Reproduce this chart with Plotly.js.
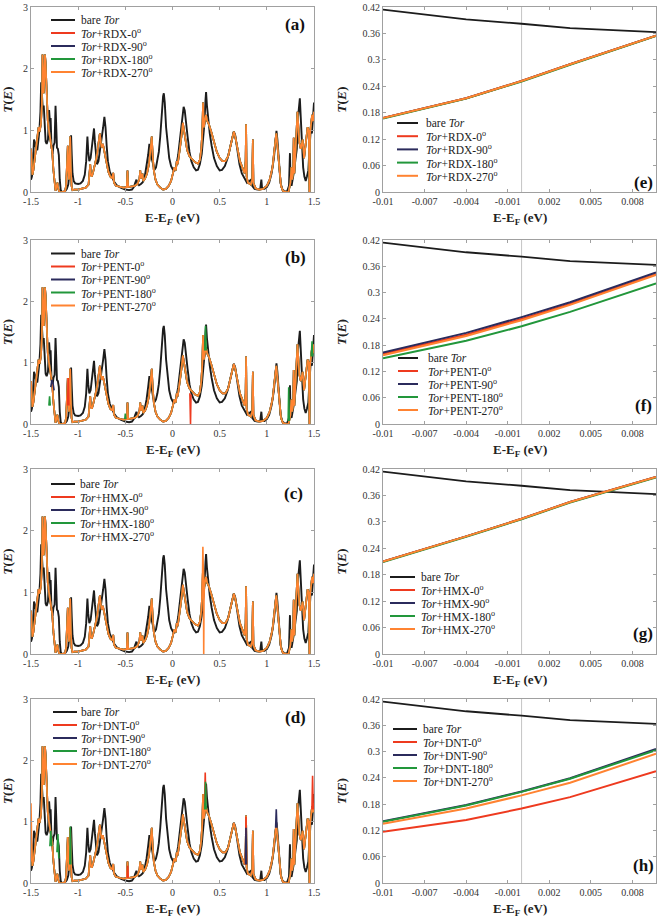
<!DOCTYPE html>
<html><head><meta charset="utf-8">
<script src="https://cdn.plot.ly/plotly-3.0.1.min.js"></script>
<style>html,body{margin:0;padding:0;background:#fff}#chart{width:661px;height:918px}</style>
</head><body><div id="chart"></div>
<script>
// ---------- categories ----------
const molecules = ['RDX', 'PENT', 'HMX', 'DNT'];
const angles = ['0', '90', '180', '270'];
const panelLetters = ['(a)', '(b)', '(c)', '(d)', '(e)', '(f)', '(g)', '(h)'];

// ---------- wide-range transmission, bare Tor (same in a-d) ----------
const energyBare = [-1.500,-1.490,-1.480,-1.468,-1.458,-1.445,-1.433,-1.420,-1.411,-1.400,-1.392,-1.385,-1.375,-1.365,-1.355,-1.345,-1.334,-1.320,-1.308,-1.300,-1.292,-1.283,-1.272,-1.262,-1.250,-1.240,-1.233,-1.225,-1.215,-1.205,-1.195,-1.185,-1.170,-1.155,-1.135,-1.120,-1.105,-1.092,-1.082,-1.075,-1.068,-1.060,-1.048,-1.032,-1.000,-0.975,-0.950,-0.930,-0.915,-0.902,-0.893,-0.882,-0.868,-0.852,-0.840,-0.832,-0.822,-0.810,-0.800,-0.785,-0.770,-0.752,-0.735,-0.722,-0.710,-0.698,-0.685,-0.665,-0.643,-0.620,-0.590,-0.550,-0.500,-0.460,-0.430,-0.410,-0.395,-0.382,-0.370,-0.355,-0.335,-0.315,-0.295,-0.275,-0.258,-0.245,-0.235,-0.222,-0.205,-0.190,-0.175,-0.160,-0.145,-0.130,-0.115,-0.100,-0.092,-0.082,-0.068,-0.052,-0.035,-0.015,0.005,0.022,0.040,0.060,0.080,0.100,0.118,0.130,0.145,0.160,0.180,0.200,0.225,0.250,0.270,0.290,0.310,0.325,0.338,0.350,0.356,0.365,0.378,0.395,0.415,0.440,0.470,0.500,0.525,0.555,0.585,0.610,0.632,0.650,0.665,0.685,0.710,0.735,0.760,0.790,0.815,0.832,0.845,0.870,0.900,0.930,0.942,0.950,0.975,1.000,1.025,1.050,1.075,1.092,1.102,1.112,1.128,1.145,1.165,1.190,1.215,1.235,1.245,1.252,1.262,1.275,1.290,1.305,1.318,1.330,1.340,1.350,1.360,1.372,1.385,1.398,1.412,1.425,1.440,1.452,1.465,1.478,1.490,1.500];
const tBare = [0.20,0.25,0.45,0.85,0.80,0.70,0.68,0.85,1.00,1.30,1.78,1.60,1.35,1.40,0.95,0.82,0.78,0.85,1.33,1.15,1.20,0.75,0.62,0.75,0.80,1.40,1.10,0.72,0.70,0.60,0.20,0.03,0.00,0.00,0.02,0.05,0.12,0.30,0.65,0.92,0.60,0.30,0.18,0.14,0.13,0.14,0.18,0.28,0.50,0.90,0.65,0.50,0.55,0.75,0.95,1.03,0.80,0.55,0.45,0.50,0.65,0.85,1.05,1.22,1.05,0.75,0.50,0.33,0.24,0.17,0.11,0.07,0.04,0.03,0.04,0.08,0.15,0.20,0.14,0.11,0.13,0.16,0.24,0.40,0.60,0.78,0.72,0.55,0.43,0.36,0.40,0.50,0.65,0.90,1.25,1.55,1.60,1.45,1.05,0.75,0.55,0.42,0.36,0.35,0.42,0.60,0.90,1.20,1.38,1.32,1.15,0.90,0.65,0.50,0.40,0.35,0.36,0.45,0.62,0.85,1.10,1.50,1.62,1.40,1.15,0.95,0.75,0.55,0.42,0.35,0.36,0.42,0.55,0.72,0.90,0.98,0.92,0.70,0.45,0.30,0.22,0.15,0.18,0.20,0.10,0.05,0.04,0.05,0.20,0.05,0.05,0.08,0.15,0.30,0.55,0.85,0.99,0.85,0.45,0.15,0.04,0.01,0.01,0.10,0.63,0.15,0.10,0.20,0.35,0.55,0.70,1.20,1.35,1.52,1.20,0.75,0.40,0.25,0.18,0.25,0.35,0.70,1.00,0.95,1.20,1.45];

// ---------- wide-range transmission with adsorbed molecule (curves of all angles coincide) ----------
const energyAds = [-1.500,-1.492,-1.485,-1.475,-1.460,-1.445,-1.430,-1.420,-1.408,-1.395,-1.385,-1.378,-1.372,-1.365,-1.358,-1.352,-1.345,-1.335,-1.322,-1.305,-1.290,-1.275,-1.262,-1.250,-1.240,-1.228,-1.220,-1.210,-1.198,-1.170,-1.140,-1.128,-1.118,-1.110,-1.103,-1.097,-1.090,-1.085,-1.078,-1.070,-1.060,-1.040,-1.000,-0.960,-0.920,-0.890,-0.878,-0.872,-0.865,-0.855,-0.840,-0.820,-0.800,-0.785,-0.770,-0.760,-0.750,-0.738,-0.728,-0.715,-0.700,-0.680,-0.660,-0.640,-0.628,-0.620,-0.600,-0.560,-0.520,-0.485,-0.477,-0.470,-0.440,-0.400,-0.370,-0.350,-0.342,-0.335,-0.325,-0.318,-0.310,-0.290,-0.270,-0.250,-0.232,-0.220,-0.210,-0.198,-0.180,-0.160,-0.130,-0.100,-0.070,-0.040,-0.015,0.005,0.020,0.035,0.045,0.055,0.065,0.080,0.095,0.110,0.122,0.138,0.155,0.180,0.210,0.240,0.270,0.290,0.305,0.315,0.324,0.332,0.342,0.355,0.368,0.385,0.410,0.440,0.470,0.500,0.530,0.560,0.590,0.615,0.635,0.650,0.665,0.690,0.715,0.740,0.765,0.775,0.780,0.786,0.800,0.830,0.845,0.852,0.858,0.880,0.920,0.960,1.000,1.030,1.060,1.085,1.100,1.115,1.135,1.150,1.170,1.200,1.230,1.250,1.260,1.268,1.278,1.285,1.292,1.305,1.315,1.325,1.335,1.345,1.360,1.380,1.395,1.410,1.420,1.432,1.445,1.452,1.458,1.470,1.480,1.490,1.500];
const tAdsorbed = [0.70,0.40,0.28,0.35,0.55,0.75,0.95,1.05,0.98,1.10,1.40,2.23,1.95,1.60,1.85,2.23,2.10,1.55,1.15,0.95,0.80,0.65,0.35,0.08,0.02,0.10,0.15,0.05,0.00,0.00,0.01,0.10,0.45,0.75,0.35,0.20,0.55,0.90,0.40,0.10,0.03,0.04,0.04,0.05,0.07,0.12,0.30,0.45,0.28,0.25,0.33,0.45,0.60,0.78,0.95,0.80,0.72,0.78,0.70,0.58,0.45,0.33,0.25,0.22,0.31,0.15,0.10,0.08,0.07,0.08,0.35,0.08,0.09,0.10,0.13,0.22,0.35,0.22,0.25,0.30,0.18,0.22,0.30,0.45,0.70,0.90,0.60,0.35,0.20,0.12,0.07,0.04,0.05,0.10,0.18,0.30,0.40,0.35,0.50,0.45,0.60,0.72,0.90,1.12,1.00,0.80,0.68,0.58,0.52,0.48,0.46,0.52,0.70,0.95,1.45,1.05,1.15,1.25,1.15,1.10,0.98,0.80,0.65,0.55,0.50,0.50,0.58,0.75,0.92,0.98,0.90,0.68,0.50,0.40,0.30,0.50,1.10,0.25,0.15,0.12,0.20,0.85,0.15,0.06,0.04,0.05,0.10,0.20,0.40,0.75,0.95,0.70,0.30,0.10,0.02,0.00,0.00,0.15,0.40,0.20,0.30,0.88,0.30,0.70,1.00,1.30,1.05,0.80,0.70,0.85,0.55,0.80,0.95,1.05,1.00,0.00,0.95,1.10,1.25,1.15,1.30];

// ---------- molecule/angle specific features (wide range) ----------
const pent0ExtraE = [-1.112,-1.105,-1.098,null,0.184,0.189,0.191,0.196];
const pent0ExtraT = [0.30,0.75,0.30,null,0.50,0.00,0.00,0.48];
const pent90ExtraE = [-1.290,-1.278,-1.266,-1.255];
const pent90ExtraT = [0.60,0.72,0.66,0.55];
const pent180ExtraE = [-1.310,-1.303,-1.296,null,-0.506,-0.500,-0.494,null,0.343,0.350,0.357,null,1.226,1.232,1.238,null,1.472,1.479,1.486];
const pent180ExtraT = [0.30,0.45,0.30,null,0.08,0.17,0.08,null,1.20,1.60,1.20,null,0.05,0.60,0.05,null,1.10,1.35,1.10];
const hmx270ExtraE = [0.315,0.322,0.328,0.331,0.334,0.338];
const hmx270ExtraT = [0.90,1.74,1.20,0.00,0.90,1.10];
const dnt0ExtraE = [0.340,0.347,0.354,null,1.478,1.485,1.492,null,0.774,0.779,0.784,null,-0.480,-0.475,-0.470];
const dnt0ExtraT = [1.30,1.80,1.30,null,1.20,1.75,1.20,null,0.30,1.08,0.30,null,0.08,0.28,0.08];
const dnt90ExtraE = [1.093,1.100,1.107,null,0.774,0.779,0.784];
const dnt90ExtraT = [0.90,1.20,0.90,null,0.30,0.90,0.30];
const dnt180ExtraE = [-1.225,-1.215,-1.205,null,-1.088,-1.083,-1.078,null,-1.300,-1.290,-1.280,null,0.343,0.350,0.357];
const dnt180ExtraT = [0.50,0.80,0.40,null,0.30,0.92,0.30,null,0.60,0.85,0.60,null,1.20,1.65,1.20];
const dnt270ExtraE = [-1.500,-1.496,-1.490];
const dnt270ExtraT = [1.30,0.60,0.35];

// ---------- near-Fermi transmission (e-h) ----------
const eZoom = [-0.01, -0.004, 0, 0.0035, 0.0097];
const tBareZoom = [0.414, 0.392, 0.382, 0.372, 0.363];
const zoomRDX0   = [0.168, 0.213, 0.252, 0.290, 0.355];
const zoomRDX90  = [0.168, 0.213, 0.252, 0.290, 0.355];
const zoomRDX180 = [0.167, 0.212, 0.251, 0.289, 0.354];
const zoomRDX270 = [0.168, 0.213, 0.252, 0.290, 0.355];
const zoomPENT0   = [0.160, 0.204, 0.240, 0.274, 0.342];
const zoomPENT90  = [0.163, 0.208, 0.244, 0.278, 0.346];
const zoomPENT180 = [0.150, 0.190, 0.223, 0.256, 0.321];
const zoomPENT270 = [0.157, 0.201, 0.237, 0.272, 0.340];
const zoomHMX0   = [0.210, 0.267, 0.307, 0.345, 0.402];
const zoomHMX90  = [0.210, 0.267, 0.307, 0.345, 0.402];
const zoomHMX180 = [0.209, 0.266, 0.306, 0.344, 0.401];
const zoomHMX270 = [0.210, 0.267, 0.307, 0.345, 0.402];
const zoomDNT0   = [0.117, 0.144, 0.170, 0.196, 0.255];
const zoomDNT90  = [0.141, 0.178, 0.209, 0.239, 0.306];
const zoomDNT180 = [0.140, 0.177, 0.208, 0.238, 0.303];
const zoomDNT270 = [0.135, 0.170, 0.200, 0.229, 0.295];
const fermiLevel = 0;

// ---------- ticks ----------
const wideTickVals = [-1.5, -1, -0.5, 0, 0.5, 1, 1.5];
const wideTickText = ['-1.5', '-1', '-0.5', '0', '0.5', '1', '1.5'];
const wideYTicks = [0, 1, 2, 3];
const zoomTickVals = [-0.01, -0.007, -0.004, -0.001, 0.002, 0.005, 0.008];
const zoomTickText = ['-0.01', '-0.007', '-0.004', '-0.001', '0.002', '0.005', '0.008'];
const zoomYTickVals = [0, 0.06, 0.12, 0.18, 0.24, 0.3, 0.36, 0.42];
const zoomYTickText = ['0', '0.06', '0.12', '0.18', '0.24', '0.3', '0.36', '0.42'];

// ---------- styling ----------
const colBare = '#1c1c1c';
const angleColors = ['#ee3a1f', '#2b2b5c', '#22973b', '#ff8331'];
const serif = 'Liberation Serif';
const W = 661, H = 918;

const zoomData = {
  RDX: [zoomRDX0, zoomRDX90, zoomRDX180, zoomRDX270],
  PENT: [zoomPENT0, zoomPENT90, zoomPENT180, zoomPENT270],
  HMX: [zoomHMX0, zoomHMX90, zoomHMX180, zoomHMX270],
  DNT: [zoomDNT0, zoomDNT90, zoomDNT180, zoomDNT270]
};
const extras = {
  RDX: [],
  PENT: [[0, pent0ExtraE, pent0ExtraT], [1, pent90ExtraE, pent90ExtraT], [2, pent180ExtraE, pent180ExtraT]],
  HMX: [[3, hmx270ExtraE, hmx270ExtraT]],
  DNT: [[0, dnt0ExtraE, dnt0ExtraT], [1, dnt90ExtraE, dnt90ExtraT], [2, dnt180ExtraE, dnt180ExtraT], [3, dnt270ExtraE, dnt270ExtraT]]
};

// row pixel extents (top, bottom) and column pixel extents
const rowsPx = [[7, 192], [240, 424], [469, 654], [699, 883]];
const leftPx = [31, 314], rightPx = [383, 656];

const traces = [];
const layout = {
  width: W, height: H, margin: {l: 0, r: 0, t: 0, b: 0},
  paper_bgcolor: '#fff', plot_bgcolor: '#fff', showlegend: false,
  font: {family: serif, color: '#222', size: 11},
  annotations: [], shapes: []
};

function axisBase() {
  return {showline: true, linecolor: '#a0a0a0', linewidth: 1, mirror: 'ticks', ticks: 'inside', ticklen: 3,
          tickcolor: '#a0a0a0', showgrid: false, zeroline: false, fixedrange: true,
          tickfont: {family: serif, size: 10, color: '#333'}};
}
function yTitle() {
  return {text: '<b><i>T</i>(<i>E</i>)</b>', font: {family: serif, size: 13.5, color: '#222'}};
}
function addXTitle(xa, ya, italicF) {
  layout.annotations.push({xref: xa + ' domain', yref: ya + ' domain', x: 0.5, y: 0, xanchor: 'center', yanchor: 'middle',
    yshift: -26, showarrow: false,
    text: italicF ? '<b>E-E<sub><i>F</i></sub> (eV)</b>' : '<b>E-E<sub>F</sub> (eV)</b>',
    font: {family: serif, size: 13, color: '#222'}});
}

const legendLeft = [
  {sx: [51, 75], tx: 80, y0: 20, dy: 13},
  {sx: [51, 75], tx: 80, y0: 253.5, dy: 13},
  {sx: [51, 75], tx: 79, y0: 484, dy: 13},
  {sx: [53, 77], tx: 80, y0: 712, dy: 13}
];
const legendRight = [
  {sx: [397, 418], tx: 425, y0: 123, dy: 13.2},
  {sx: [398, 418], tx: 427, y0: 358, dy: 13.0},
  {sx: [390, 415], tx: 420, y0: 577, dy: 13.0},
  {sx: [393, 417], tx: 422, y0: 729, dy: 13.0}
];
const letterPos = [[295, 25], [295, 257], [293, 493], [295, 717], [643, 182], [643, 405], [643, 633], [643, 865]];

function addLegend(spec, mol) {
  const labels = ['bare <i>Tor</i>'].concat(angles.map(a => '<i>Tor</i>+' + mol + '-' + a + '<sup>o</sup>'));
  const cols = [colBare].concat(angleColors);
  labels.forEach((lab, k) => {
    const py = spec.y0 + k * spec.dy;
    layout.shapes.push({type: 'line', xref: 'paper', yref: 'paper', x0: spec.sx[0] / W, x1: spec.sx[1] / W,
                        y0: 1 - py / H, y1: 1 - py / H, line: {color: cols[k], width: 2}});
    layout.annotations.push({xref: 'paper', yref: 'paper', x: spec.tx / W, y: 1 - py / H, xanchor: 'left', yanchor: 'middle',
                             text: lab, showarrow: false, font: {family: serif, size: 11.5, color: '#222'}, borderpad: 0});
  });
}

molecules.forEach((mol, i) => {
  const [top, bot] = rowsPx[i];
  const yDom = [1 - bot / H, 1 - top / H];
  const li = i + 1, ri = i + 5;
  const lx = 'x' + li, ly = 'y' + li, rx = 'x' + ri, ry = 'y' + ri;
  // ----- left (wide range) -----
  traces.push({type: 'scatter', mode: 'lines', x: energyBare, y: tBare, xaxis: lx, yaxis: ly,
               line: {color: colBare, width: 1.9}, name: 'bare Tor', hoverinfo: 'skip'});
  angles.forEach((a, k) => {
    traces.push({type: 'scatter', mode: 'lines', x: energyAds, y: tAdsorbed, xaxis: lx, yaxis: ly,
                 line: {color: angleColors[k], width: 1.7}, name: 'Tor+' + mol + '-' + a, hoverinfo: 'skip'});
  });
  extras[mol].forEach(([k, ex, ey]) => {
    traces.push({type: 'scatter', mode: 'lines', x: ex, y: ey, xaxis: lx, yaxis: ly, connectgaps: false,
                 line: {color: angleColors[k], width: 1.6}, name: 'Tor+' + mol + '-' + angles[k], hoverinfo: 'skip'});
  });
  // ----- right (near Fermi level) -----
  traces.push({type: 'scatter', mode: 'lines', x: eZoom, y: tBareZoom, xaxis: rx, yaxis: ry,
               line: {color: colBare, width: 1.8}, name: 'bare Tor', hoverinfo: 'skip'});
  angles.forEach((a, k) => {
    traces.push({type: 'scatter', mode: 'lines', x: eZoom, y: zoomData[mol][k], xaxis: rx, yaxis: ry,
                 line: {color: angleColors[k], width: 2}, name: 'Tor+' + mol + '-' + a, hoverinfo: 'skip'});
  });

  layout['xaxis' + (li === 1 ? '' : li)] = Object.assign(axisBase(), {
    domain: [leftPx[0] / W, leftPx[1] / W], anchor: ly, range: [-1.5, 1.5],
    tickmode: 'array', tickvals: wideTickVals, ticktext: wideTickText});
  layout['yaxis' + (li === 1 ? '' : li)] = Object.assign(axisBase(), {
    domain: yDom, anchor: lx, range: [0, 3], tickmode: 'array', tickvals: wideYTicks, title: yTitle()});
  layout['xaxis' + ri] = Object.assign(axisBase(), {
    domain: [rightPx[0] / W, rightPx[1] / W], anchor: ry, range: [-0.01, 0.0097],
    tickmode: 'array', tickvals: zoomTickVals, ticktext: zoomTickText});
  layout['yaxis' + ri] = Object.assign(axisBase(), {
    domain: yDom, anchor: rx, range: [0, 0.42], tickmode: 'array', tickvals: zoomYTickVals, ticktext: zoomYTickText, title: yTitle()});

  addXTitle(lx, ly, i === 0);
  addXTitle(rx, ry, false);

  layout.shapes.push({type: 'line', xref: rx, yref: ry + ' domain', x0: fermiLevel, x1: fermiLevel, y0: 0, y1: 1,
                      line: {color: '#c4c4c4', width: 1}, layer: 'below'});

  addLegend(legendLeft[i], mol);
  addLegend(legendRight[i], mol);
});

panelLetters.forEach((t, k) => {
  layout.annotations.push({xref: 'paper', yref: 'paper', x: letterPos[k][0] / W, y: 1 - letterPos[k][1] / H,
                           xanchor: 'center', yanchor: 'middle', text: '<b>' + t + '</b>', showarrow: false,
                           font: {family: serif, size: 17, color: '#111'}});
});

Plotly.newPlot('chart', traces, layout, {staticPlot: true, displayModeBar: false});
</script></body></html>
